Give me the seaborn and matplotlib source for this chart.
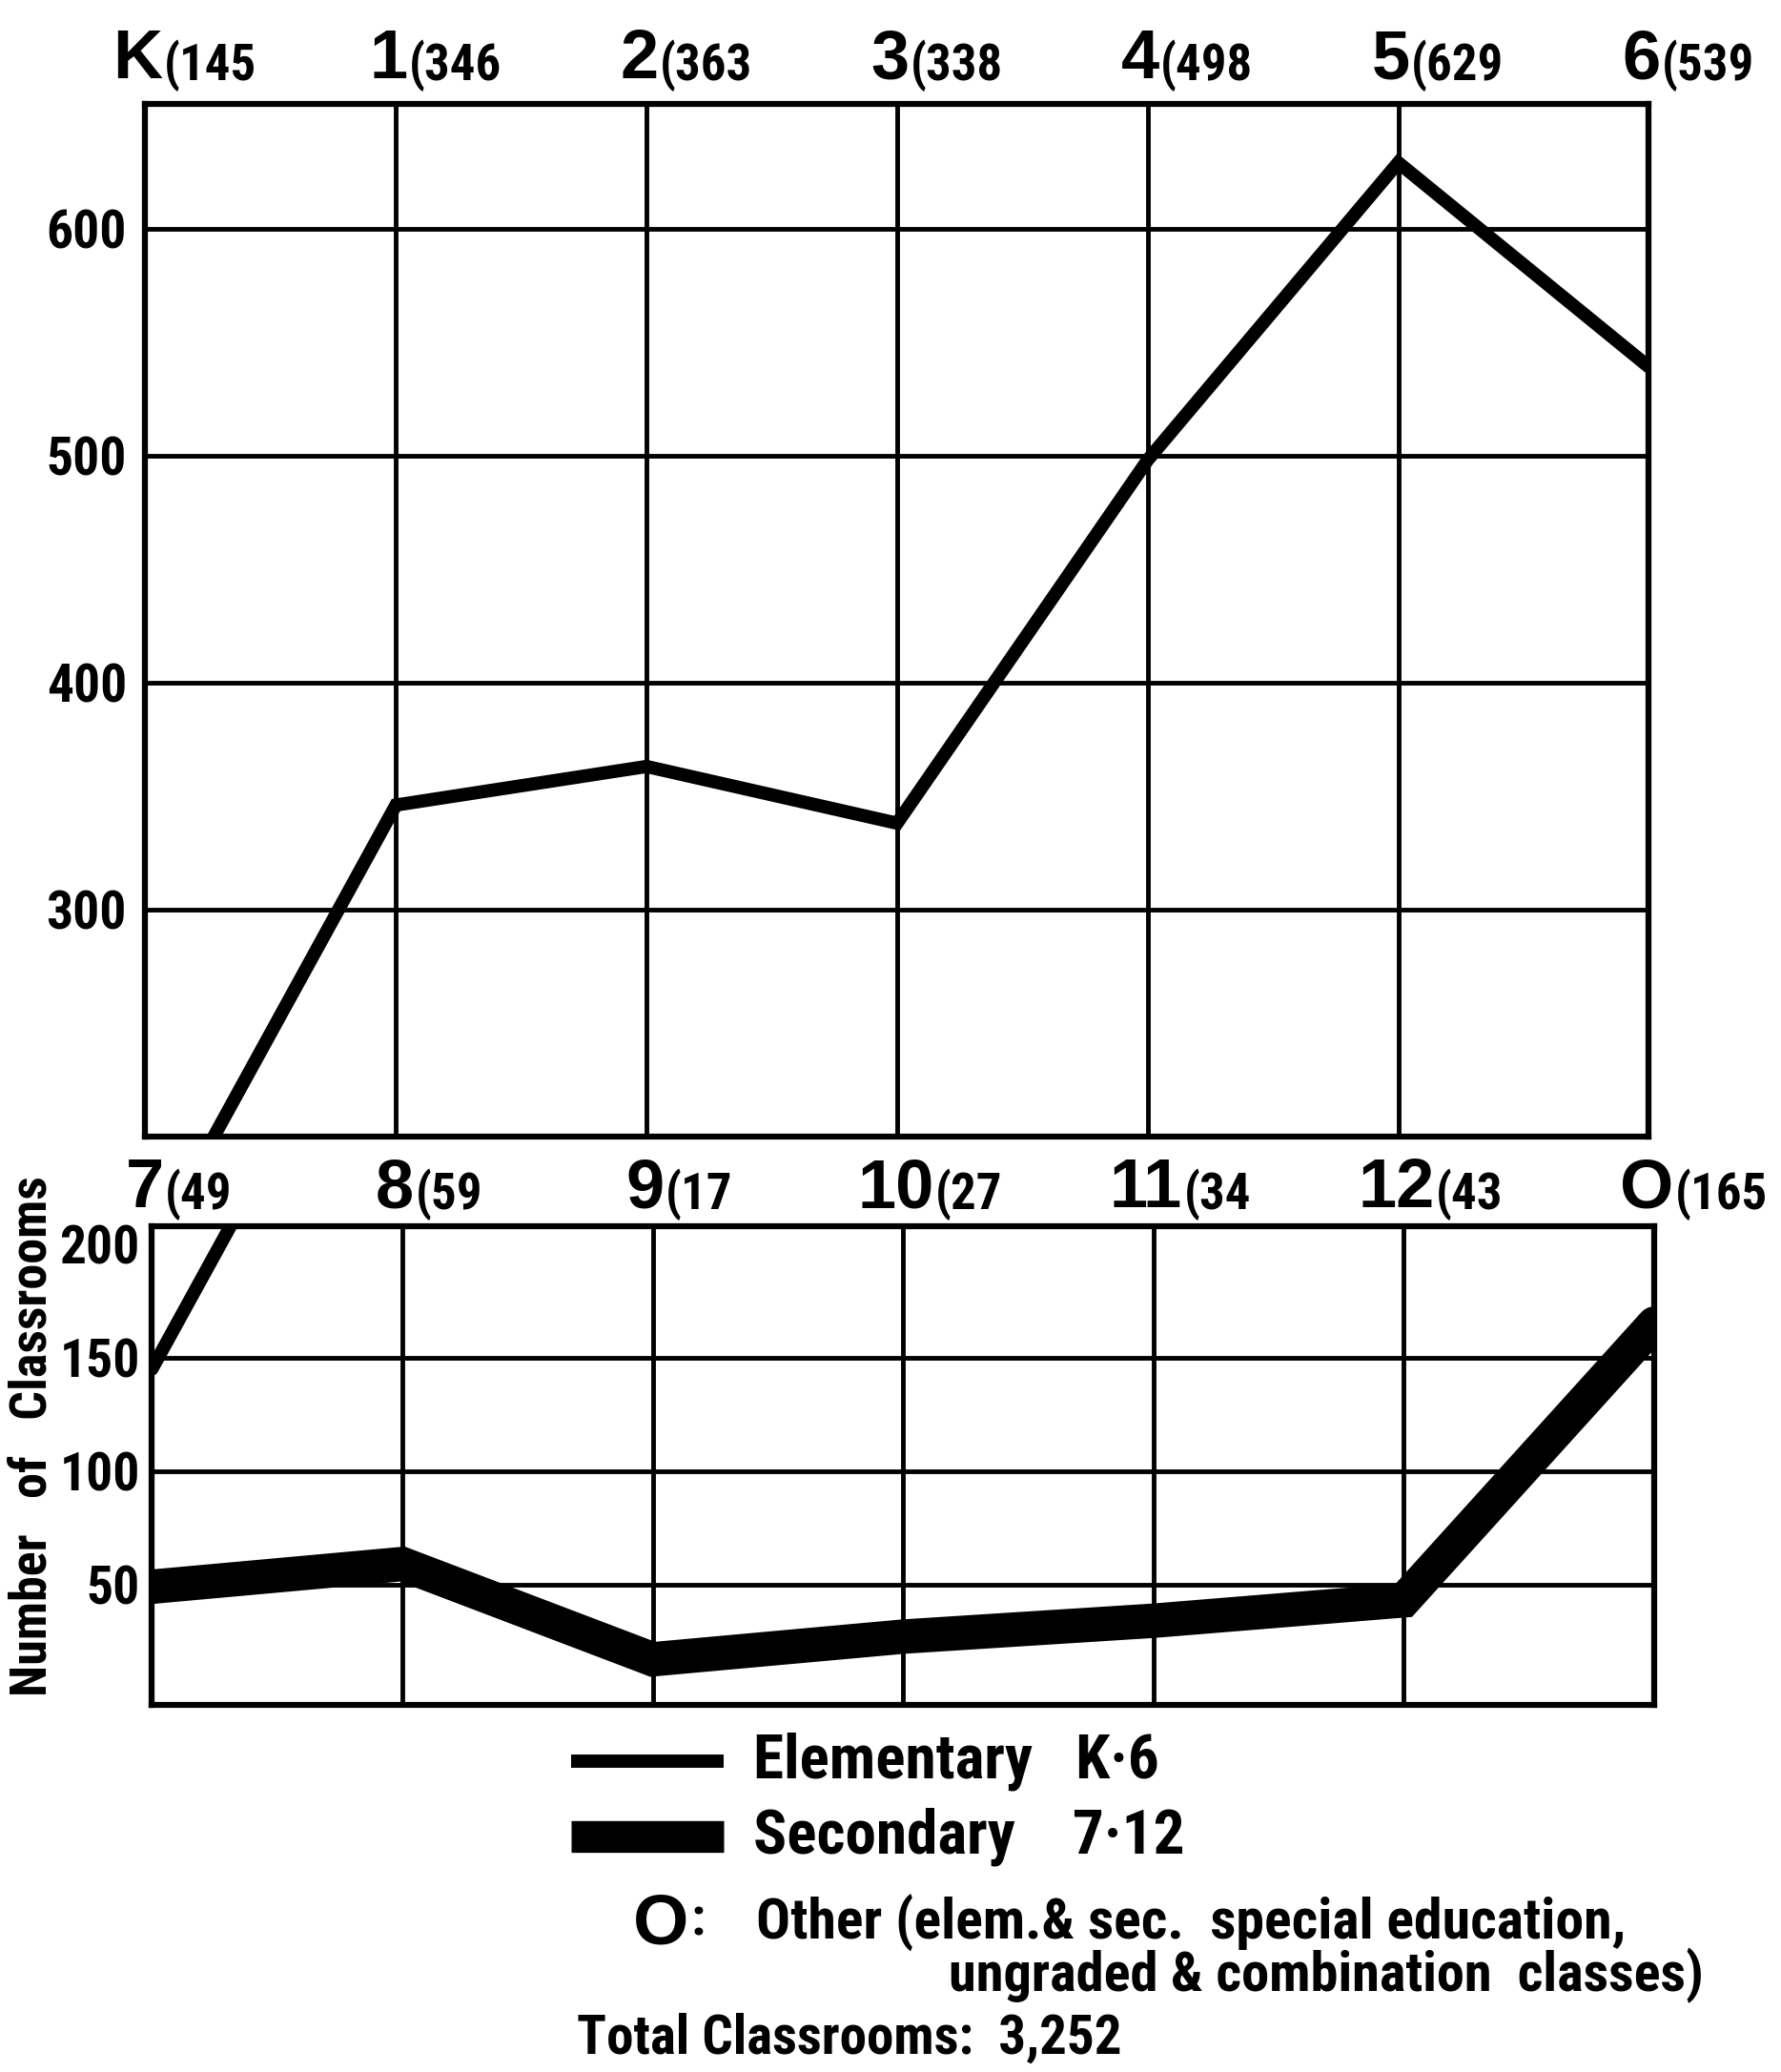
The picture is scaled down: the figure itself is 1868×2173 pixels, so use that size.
import pandas as pd
import matplotlib
matplotlib.use('Agg')
import matplotlib.pyplot as plt
import matplotlib.transforms as mtransforms
from matplotlib.lines import Line2D
import seaborn as sns

# classrooms per grade
elem_grades = ['K', '1', '2', '3', '4', '5', '6']
elem_rooms = [145, 346, 363, 338, 498, 629, 539]
sec_grades = ['7', '8', '9', '10', '11', '12', 'O']
sec_rooms = [49, 59, 17, 27, 34, 43, 165]
top_ticks = [300, 400, 500, 600]
bottom_ticks = [50, 100, 150, 200]

NARROW = ['Roboto Condensed', 'DejaVu Sans']
WIDE = ['Liberation Sans', 'DejaVu Sans']

sns.set_theme(style='white')
plt.rcParams['font.family'] = NARROW
plt.rcParams['font.weight'] = 'heavy'
plt.rcParams['font.stretch'] = 'condensed'
plt.rcParams['text.color'] = 'black'
plt.rcParams['ytick.color'] = 'black'


def style_panel(ax, ylim, yticks, pad):
    ax.set_xlim(0, 6)
    ax.set_ylim(*ylim)
    ax.set_xticks([])
    ax.set_yticks(yticks)
    ax.tick_params(axis='y', length=0, pad=pad, labelsize=40)
    for x in range(1, 6):
        ax.axvline(x, color='black', lw=3.5, zorder=1)
    for y in yticks:
        if y < ylim[1] - 12:
            ax.axhline(y, color='black', lw=3.5, zorder=1)
    for s in ax.spines.values():
        s.set_color('black')
        s.set_linewidth(4.5)
    ax.set_xlabel('')
    ax.set_ylabel('')


def grade_labels(ax, grades, values, y):
    trans = mtransforms.blended_transform_factory(ax.transData, ax.transAxes)
    for i, (g, v) in enumerate(zip(grades, values)):
        big = ax.text(i - 0.03, y, g, transform=trans, ha='center', va='center',
                      fontsize=52, family=WIDE, fontweight='bold', fontstretch='normal',
                      clip_on=False)
        ax.annotate(f'({v}', xy=(1, 0.42), xycoords=big, xytext=(1, 0),
                    textcoords='offset points', ha='left', va='center',
                    fontsize=38)


fig = plt.figure(figsize=(18.68, 21.73), dpi=100)
ax_top = fig.add_axes([0.0816, 0.4515, 0.8442, 0.4985])
ax_bot = fig.add_axes([0.0853, 0.1773, 0.8435, 0.2309])

df_elem = pd.DataFrame({'pos': range(len(elem_rooms)), 'rooms': elem_rooms})
df_sec = pd.DataFrame({'pos': range(len(sec_rooms)), 'rooms': sec_rooms})

# top panel: elementary K-6
sns.lineplot(data=df_elem, x='pos', y='rooms', ax=ax_top, color='black', lw=10,
             solid_joinstyle='miter', zorder=3)
style_panel(ax_top, (200, 655), top_ticks, 14)
grade_labels(ax_top, elem_grades, elem_rooms, 1.042)

# bottom panel: secondary 7-12 + other, elementary line runs on below 200
sns.lineplot(data=df_elem, x='pos', y='rooms', ax=ax_bot, color='black', lw=10,
             solid_joinstyle='miter', zorder=3)
sns.lineplot(data=df_sec, x='pos', y='rooms', ax=ax_bot, color='black', lw=26,
             solid_joinstyle='miter', zorder=3)
style_panel(ax_bot, (-3, 208), bottom_ticks, 9)
grade_labels(ax_bot, sec_grades, sec_rooms, 1.077)

fig.text(0.018, 0.307, 'Number   of   Classrooms', rotation=90, fontsize=39,
         ha='center', va='center')

# legend, drawn by hand like the original
fig.add_artist(Line2D([0.3205, 0.4065], [0.150, 0.150], transform=fig.transFigure,
                      color='black', lw=10, solid_capstyle='butt'))
fig.add_artist(Line2D([0.3205, 0.4065], [0.1135, 0.1135], transform=fig.transFigure,
                      color='black', lw=24, solid_capstyle='butt'))
fig.text(0.4228, 0.150, 'Elementary   K·6', fontsize=47, va='center')
fig.text(0.4228, 0.1135, 'Secondary    7·12', fontsize=47, va='center')
fig.text(0.371, 0.071, 'O', fontsize=54, family=WIDE, fontweight='bold',
         fontstretch='normal', ha='center', va='center')
fig.text(0.392, 0.073, ':', fontsize=40, ha='center', va='center')
fig.text(0.4243, 0.072, 'Other (elem.& sec.  special education,', fontsize=43, va='center')
fig.text(0.5326, 0.0466, 'ungraded & combination  classes)', fontsize=42, va='center')

total = sum(elem_rooms) + sum(sec_rooms)
fig.text(0.324, 0.016, f'Total Classrooms:  {total:,}', fontsize=41, va='center')

fig.savefig('out.png', dpi=100)
